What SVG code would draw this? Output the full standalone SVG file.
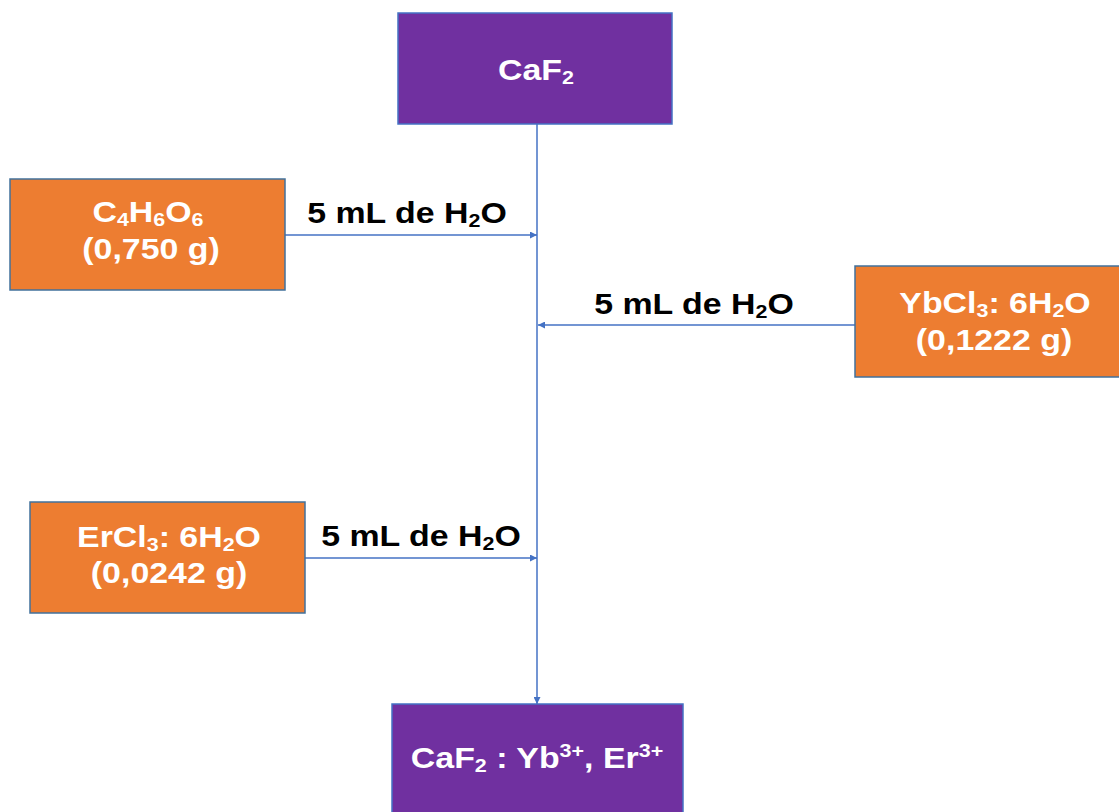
<svg xmlns="http://www.w3.org/2000/svg" width="1119" height="812" viewBox="0 0 1119 812">
<style>
.purple{fill:#7030A0;stroke:#4472C4;stroke-width:1.5}
.orange{fill:#ED7D31;stroke:#41719C;stroke-width:1.5}
.w{fill:#fff;font-family:"Liberation Sans",Arial,sans-serif;font-weight:bold;font-size:30px;text-anchor:middle}
.b{fill:#000;font-family:"Liberation Sans",Arial,sans-serif;font-weight:bold;font-size:30px;text-anchor:middle}
.sub{font-size:19px}
.conn{stroke:#4472C4;stroke-width:1.5;fill:none}
</style>
<defs>
<marker id="ah" viewBox="0 0 10 10" refX="10" refY="5" markerWidth="7" markerHeight="7" orient="auto" markerUnits="userSpaceOnUse">
<path d="M0,0 L10,5 L0,10 z" fill="#4472C4"/>
</marker>
</defs>
<g id="connectors">
<line class="conn" x1="537" y1="124" x2="537" y2="704" marker-end="url(#ah)"/>
<line class="conn" x1="285" y1="235" x2="537" y2="235" marker-end="url(#ah)"/>
<line class="conn" x1="855" y1="325" x2="538" y2="325" marker-end="url(#ah)"/>
<line class="conn" x1="305" y1="558" x2="537" y2="558" marker-end="url(#ah)"/>
<text class="b" transform="translate(407 0) scale(1.13 1)" x="0" y="223">5 mL de H<tspan class="sub" dy="4">2</tspan><tspan dy="-4">O</tspan></text>
<text class="b" transform="translate(694 0) scale(1.13 1)" x="0" y="314">5 mL de H<tspan class="sub" dy="4">2</tspan><tspan dy="-4">O</tspan></text>
<text class="b" transform="translate(421 0) scale(1.13 1)" x="0" y="546">5 mL de H<tspan class="sub" dy="4">2</tspan><tspan dy="-4">O</tspan></text>
</g>
<g id="caf2">
<rect class="purple" x="398" y="13" width="274" height="111"/>
<text class="w" transform="translate(536 0) scale(1.13 1)" x="0" y="80">CaF<tspan class="sub" dy="4">2</tspan></text>
</g>
<g id="c4h6o6">
<rect class="orange" x="10" y="179" width="275" height="111"/>
<text class="w" transform="translate(148 0) scale(1.13 1)" x="0" y="222">C<tspan class="sub" dy="4">4</tspan><tspan dy="-4">H</tspan><tspan class="sub" dy="4">6</tspan><tspan dy="-4">O</tspan><tspan class="sub" dy="4">6</tspan></text>
<text class="w" transform="translate(151 0) scale(1.13 1)" x="0" y="259">(0,750 g)</text>
</g>
<g id="ybcl3">
<rect class="orange" x="855" y="266" width="270" height="111"/>
<text class="w" transform="translate(995 0) scale(1.13 1)" x="0" y="313">YbCl<tspan class="sub" dy="4">3</tspan><tspan dy="-4">: 6H</tspan><tspan class="sub" dy="4">2</tspan><tspan dy="-4">O</tspan></text>
<text class="w" transform="translate(994 0) scale(1.13 1)" x="0" y="350">(0,1222 g)</text>
</g>
<g id="ercl3">
<rect class="orange" x="30" y="502" width="275" height="111"/>
<text class="w" transform="translate(169 0) scale(1.13 1)" x="0" y="547">ErCl<tspan class="sub" dy="4">3</tspan><tspan dy="-4">: 6H</tspan><tspan class="sub" dy="4">2</tspan><tspan dy="-4">O</tspan></text>
<text class="w" transform="translate(169 0) scale(1.13 1)" x="0" y="583">(0,0242 g)</text>
</g>
<g id="product">
<rect class="purple" x="392" y="704" width="291" height="115"/>
<text class="w" transform="translate(537 0) scale(1.13 1)" x="0" y="768">CaF<tspan class="sub" dy="4">2</tspan><tspan dy="-4"> : Yb</tspan><tspan class="sub" dy="-11">3+</tspan><tspan dy="11">, Er</tspan><tspan class="sub" dy="-11">3+</tspan></text>
</g>
</svg>
